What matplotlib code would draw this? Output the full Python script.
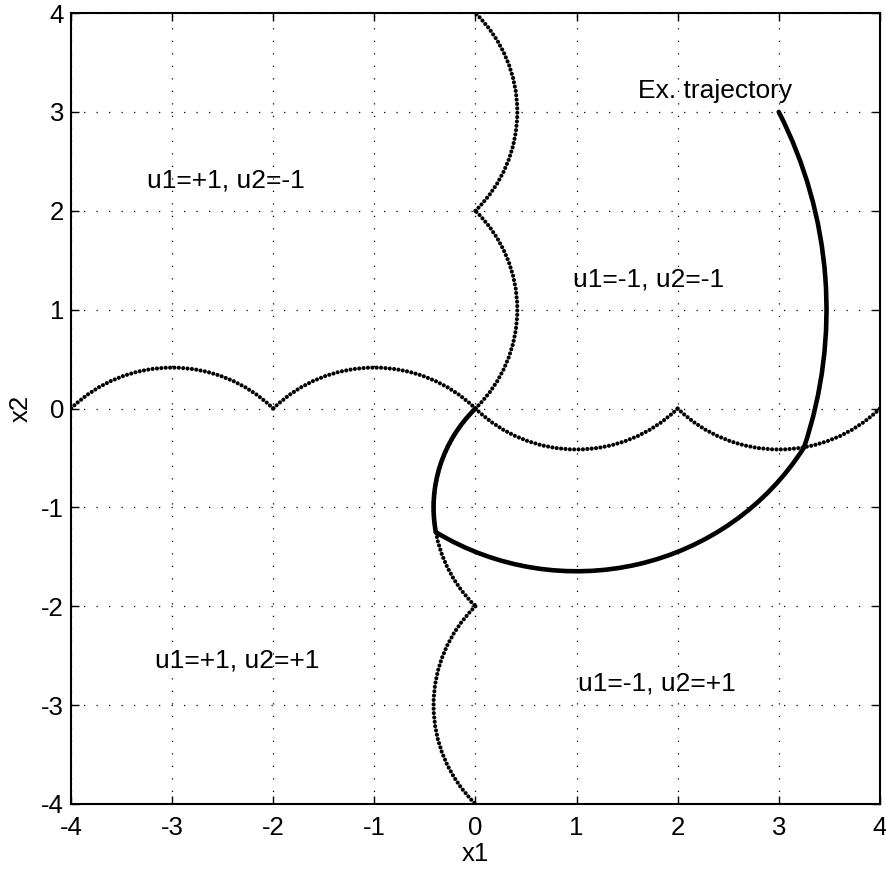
"""
    switching curves and one sample trajectory in the (x1, x2) plane
"""
import matplotlib
matplotlib.use('Agg')
import matplotlib.pyplot as plt
from matplotlib.patches import Arc

plt.rcParams['font.family'] = ['Liberation Sans', 'DejaVu Sans']
plt.rcParams['axes.unicode_minus'] = False

# switching curve arcs: centre, radius, start / end angle (deg)
sw_cx = [-3, -1, 1, 3, -1, -1, 1, 1]
sw_cy = [-1, -1, 1, 1, 3, 1, -1, -3]
sw_r = [1.414, 1.414, 1.414, 1.414, 1.414, 1.414, 1.414, 1.414]
sw_t1 = [45, 45, 225, 225, -45, -45, 135, 135]
sw_t2 = [135, 135, 315, 315, 45, 45, 225, 225]

# example trajectory arcs, starting at (3, 3)
tr_cx = [-1, 1, 1]
tr_cy = [1, 1, -1]
tr_r = [4.472, 2.646, 1.414]
tr_t1 = [-18.13, 238.26, 135.0]
tr_t2 = [26.57, 328.26, 190.18]

regions = ["u1=+1, u2=-1", "u1=-1, u2=-1", "u1=+1, u2=+1", "u1=-1, u2=+1"]
region_x = [-3.25, 0.96, -3.17, 1.01]
region_y = [2.24, 1.23, -2.62, -2.85]

ticks = [-4, -3, -2, -1, 0, 1, 2, 3, 4]


def draw_chart():
    fig = plt.figure(figsize=(8.87, 8.72), dpi=100)
    ax = fig.add_axes([0.080, 0.078, 0.912, 0.907])

    # dotted switching curves
    for cx, cy, r, t1, t2 in zip(sw_cx, sw_cy, sw_r, sw_t1, sw_t2):
        arc = Arc((cx, cy), 2 * r, 2 * r, theta1=t1, theta2=t2,
                  color='black', lw=3.0, linestyle=(0, (0.001, 1.05)),
                  capstyle='round', zorder=3)
        ax.add_patch(arc)

    # trajectory
    for cx, cy, r, t1, t2 in zip(tr_cx, tr_cy, tr_r, tr_t1, tr_t2):
        arc = Arc((cx, cy), 2 * r, 2 * r, theta1=t1, theta2=t2,
                  color='black', lw=3.3, capstyle='round', zorder=4)
        ax.add_patch(arc)

    for txt, x, y in zip(regions, region_x, region_y):
        ax.text(x, y, txt, fontsize=19, ha='left', va='baseline')
    ax.text(1.61, 3.14, "Ex. trajectory", fontsize=19, ha='left', va='baseline')

    ax.set_xlim(-4, 4)
    ax.set_ylim(-4, 4)
    ax.set_xticks(ticks)
    ax.set_yticks(ticks)
    ax.grid(True, color='black', lw=0.9, linestyle=(0, (1, 9)))
    ax.tick_params(direction='in', length=6, width=1, labelsize=18.5,
                   top=True, right=True)
    ax.tick_params(axis='x', pad=9)
    ax.tick_params(axis='y', pad=5)
    for sp in ax.spines.values():
        sp.set_linewidth(1.5)
    ax.set_xlabel('x1', fontsize=18.5, labelpad=1)
    ax.set_ylabel('x2', fontsize=18.5, labelpad=6)

    fig.savefig('out.png', dpi=100)


def main():
    draw_chart()


if __name__ == '__main__':
    main()
